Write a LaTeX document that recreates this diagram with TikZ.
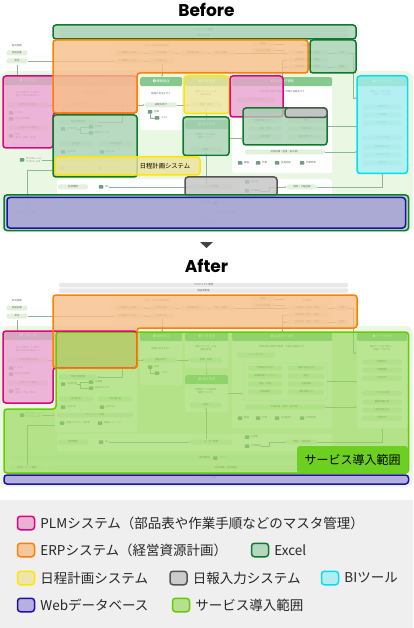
\documentclass[tikz,border=0pt]{standalone}
\usepackage{fontspec}
\setmainfont{Noto Sans CJK JP}
\newfontfamily\titlefont{Poppins}
\usepackage{xcolor}
\usetikzlibrary{arrows.meta,positioning,calc}

\definecolor{plmfill}{HTML}{E8A2CC}
\definecolor{plmline}{HTML}{E4007F}
\definecolor{erpfill}{HTML}{F7BE88}
\definecolor{erpline}{HTML}{FF7F00}
\definecolor{xlsfill}{HTML}{A6D1B2}
\definecolor{xlsline}{HTML}{0E7A2E}
\definecolor{schfill}{HTML}{EDE49A}
\definecolor{schline}{HTML}{FFE600}
\definecolor{rptfill}{HTML}{C4C4C4}
\definecolor{rptline}{HTML}{555555}
\definecolor{bifill}{HTML}{A2ECEF}
\definecolor{biline}{HTML}{00E1EE}
\definecolor{webfill}{HTML}{A89FDB}
\definecolor{webline}{HTML}{1E0FAA}
\definecolor{svcfill}{HTML}{96D85A}
\definecolor{svcline}{HTML}{66CC00}
\definecolor{svctag}{HTML}{6CCF22}
\definecolor{bgsoft}{HTML}{EAF7E2}
\definecolor{hdgreen}{HTML}{86C98C}
\definecolor{chipfill}{HTML}{E2F0DC}
\definecolor{bargray}{HTML}{E9E9E9}
\definecolor{icongreen}{HTML}{6E9E7E}
\definecolor{txtgray}{HTML}{6A6A6A}
\definecolor{wireline}{HTML}{8DB597}
\definecolor{legendbg}{HTML}{EFEFEF}
\definecolor{arrowgray}{HTML}{444444}

\newcommand\chipfont{\fontsize{2.4}{2.9}\selectfont}
\newcommand\headfont{\fontsize{3.2}{3.6}\selectfont}

% common diagram, #1 = name prefix
\newcommand\basediagram[1]{%
  \fill[bgsoft,rounded corners=8pt] (0,71) rectangle (413,232);
  % project bars
  \node[bar,minimum width=289pt] (#1-proj) at (203.5,30) {プロジェクト管理};
  \node[bar,minimum width=289pt] (#1-bomm) at (203.5,35.5) {部品表管理};
  % sales
  \node[card,anchor=north west,minimum width=28pt,minimum height=23pt] (#1-sales) at (3,42) {};
  \node[note] (#1-salest) at (17,46) {販売管理};
  \node[chip,minimum width=21pt] (#1-inv) at (17,53) {商品在庫};
  \node[chip,minimum width=21pt] (#1-order) at (17,61) {受注};
  % MRP and stock
  \node[card,anchor=north west,minimum width=222pt,minimum height=29pt] (#1-mrp) at (110,41) {};
  \node[note] (#1-mrpt) at (158,46) {MRP（資材所要量計画）};
  \node[chip,minimum width=28pt] (#1-fix1) at (129,53) {計画確定（製番）};
  \node[chip,minimum width=28pt] (#1-fix2) at (129,61) {計画確定（見込）};
  \node[chip,minimum width=24pt] (#1-plan) at (162,53) {発注計画};
  \node[chip,minimum width=24pt] (#1-alloc) at (162,61) {在庫引当};
  \node[chip,minimum width=27pt] (#1-calc) at (193,53) {所要量計算};
  \node[chip,minimum width=24pt] (#1-po) at (222,53) {発注（製番）};
  \node[chip,minimum width=22pt] (#1-buy) at (263,44) {購買};
  \node[chip,minimum width=22pt] (#1-subc) at (263,50.5) {外注加工依頼};
  \node[note] (#1-stkt) at (307,46) {在庫管理};
  \node[chip,minimum width=40pt] (#1-stk1) at (308,53) {入庫受入（入庫・検品）};
  \node[chip,minimum width=40pt] (#1-stk2) at (308,60) {出庫管理（払出・移動）};
  \node[chip,minimum width=40pt] (#1-stk3) at (308,67) {在庫照会（製品・部品）};
  \node[chip,minimum width=12pt] (#1-ship) at (342,53) {出荷};
  \node[chip,minimum width=12pt] (#1-count) at (342,67) {棚卸};
  % 1
  \node[card,anchor=north west,minimum width=50pt,minimum height=72pt] (#1-p1) at (3,76) {};
  \node[head,minimum width=50pt] (#1-p1h) at (3,76) {❶\,企画立案};
  \node[note] (#1-p1t) at (28,94) {手引き類作りと必要な\\部材の供給を確認する};
  \node[chip,minimum width=40pt] (#1-proto) at (28,105) {試作品製作計画};
  \node[icon] (#1-ebom) at (11,113) {};
  \node[ilabel,right=1.5pt of #1-ebom] (#1-ebomt) {E-BOM};
  \node[icon] (#1-std) at (11,119) {};
  \node[ilabel,right=1.5pt of #1-std] (#1-stdt) {部品/技術標準};
  \node[chip,minimum width=40pt] (#1-pmst) at (28,128) {部品マスタ管理};
  \node[icon] (#1-form) at (11,136) {};
  \node[ilabel,right=1.5pt of #1-form] (#1-formt) {帳票\\(部品、規格、図面)};
  % 2
  \node[card,anchor=north west,minimum width=82pt,minimum height=100pt] (#1-p2) at (55,77) {};
  \node[head,minimum width=82pt] (#1-p2h) at (55,77) {❷\,工程設計};
  \node[note] (#1-p2t) at (96,93) {治具図面から部品表を作り\\作業手順を作成する};
  \node[chip,minimum width=38pt] (#1-draw) at (79,105) {製品図面作成};
  \node[icon] (#1-cad) at (64,112) {};
  \node[ilabel,right=1.5pt of #1-cad] (#1-cadt) {CAD};
  \node[chip,minimum width=38pt] (#1-wi) at (78,122) {作業手順管理};
  \node[icon] (#1-wdoc) at (63,129) {};
  \node[ilabel,right=1.5pt of #1-wdoc] (#1-wdoct) {作業手順};
  \node[icon] (#1-wfig) at (91,127) {};
  \node[ilabel,right=1.5pt of #1-wfig] (#1-wfigt) {作業図};
  \node[icon] (#1-cat) at (91,133) {};
  \node[ilabel,right=1.5pt of #1-cat] (#1-catt) {部品カタログ};
  \node[chip,minimum width=34pt] (#1-jig) at (76,144) {治具計画};
  \node[chip,minimum width=34pt] (#1-mach) at (115,144) {加工設計書};
  \node[icon] (#1-jigdb) at (63,152) {};
  \node[ilabel,right=1.5pt of #1-jigdb] (#1-jigdbt) {治具 DB};
  \node[icon] (#1-machdb) at (102,152) {};
  \node[ilabel,right=1.5pt of #1-machdb] (#1-machdbt) {加工 DB};
  \node[bar,minimum width=76pt] (#1-net) at (95,160) {ネットワーク共有};
  \node[icon] (#1-sched) at (62,168) {};
  \node[ilabel,right=1.5pt of #1-sched] (#1-schedt) {生産スケジュール共有};
  \node[icon] (#1-store) at (100,168) {};
  \node[ilabel,right=1.5pt of #1-store] (#1-storet) {部品ストレージ};
  % 3
  \node[card,anchor=north west,minimum width=42pt,minimum height=53pt] (#1-p3) at (140,77) {};
  \node[head,minimum width=42pt] (#1-p3h) at (140,77) {❸\,購買発注};
  \node[note] (#1-p3t) at (161,94) {調達の発注を行う};
  \node[chip,minimum width=32pt] (#1-proc) at (161,105) {調達を発行};
  \node[icon] (#1-zai) at (150,112) {};
  \node[ilabel,right=1.5pt of #1-zai] (#1-zait) {在庫};
  \node[icon] (#1-cost) at (157,118) {};
  \node[ilabel,right=1.5pt of #1-cost] (#1-costt) {コスト};
  % 4
  \node[card,anchor=north west,minimum width=43pt,minimum height=36pt] (#1-p4) at (185,77) {};
  \node[head,minimum width=43pt] (#1-p4h) at (185,77) {❹\,日程管理};
  \node[note] (#1-p4t) at (206,93) {個別スケジュールを\\確認/変更};
  \node[chip,minimum width=32pt] (#1-view) at (206,105) {閲覧・管理};
  % 6
  \node[card,anchor=north west,minimum width=43pt,minimum height=37pt] (#1-p6) at (185,120) {};
  \node[head,minimum width=43pt] (#1-p6h) at (185,120) {❻\,進捗管理};
  \node[note] (#1-p6t) at (206,136) {作業者ごとの進捗を\\確認/フォロー};
  \node[chip,minimum width=32pt] (#1-chk) at (206,150) {確認};
  % 5
  \node[card,anchor=north west,minimum width=100pt,minimum height=96pt] (#1-p5) at (232,77) {};
  \node[head,minimum width=100pt] (#1-p5h) at (232,77) {❺\,製造実行管理};
  \node[note] (#1-p5t) at (282,92) {作業内容や異常の確認・作業の記録を行う};
  \node[chip,minimum width=38pt] (#1-teach) at (256,100) {ティーチング};
  \node[card,draw=chipfill,anchor=north west,minimum width=84pt,minimum height=37pt] (#1-exec) at (243,108) {};
  \node[chip,minimum width=34pt] (#1-e1) at (265,113) {作業指示(SF/T)};
  \node[chip,minimum width=34pt] (#1-e2) at (265,121) {実績記録(ハンディ)};
  \node[chip,minimum width=34pt] (#1-e3) at (265,129) {検査・手順};
  \node[chip,minimum width=34pt] (#1-e4) at (265,137) {品質管理};
  \node[chip,minimum width=36pt] (#1-e5) at (306,113) {実績日報(日/月)};
  \node[chip,minimum width=36pt] (#1-e6) at (306,121) {受付};
  \node[chip,minimum width=36pt] (#1-e7) at (306,129) {手順記録};
  \node[chip,minimum width=36pt] (#1-e8) at (306,137) {帳票自動入力};
  \node[chip,minimum width=80pt] (#1-tech) at (285,152) {技術記録（温度・加工値）};
  \node[icon] (#1-i1) at (240,163) {};
  \node[ilabel,right=1.5pt of #1-i1] (#1-i1t) {機器};
  \node[icon] (#1-i2) at (258,163) {};
  \node[ilabel,right=1.5pt of #1-i2] (#1-i2t) {作業};
  \node[icon] (#1-i3) at (277,163) {};
  \node[ilabel,right=1.5pt of #1-i3] (#1-i3t) {品質記録};
  \node[icon] (#1-i4) at (302,163) {};
  \node[ilabel,right=1.5pt of #1-i4] (#1-i4t) {作業時間};
  % 7
  \node[card,anchor=north west,minimum width=50pt,minimum height=96pt] (#1-p7) at (357,77) {};
  \node[head,minimum width=50pt] (#1-p7h) at (357,77) {❼\,データ分析};
  \node[note] (#1-p7t) at (382,93) {製品データを分析し、\\改善へつなげる};
  \node[chip,minimum width=40pt] (#1-a1) at (382,107) {作業状況};
  \node[chip,minimum width=40pt] (#1-a2) at (382,115) {作業実績};
  \node[chip,minimum width=40pt] (#1-a3) at (382,123) {不良分析};
  \node[chip,minimum width=40pt] (#1-a4) at (382,138) {トラブル対応};
  \node[chip,minimum width=40pt] (#1-a5) at (382,147) {設備稼働分析};
  \node[chip,minimum width=40pt] (#1-a6) at (382,155) {工程分析(SF)};
  \node[chip,minimum width=40pt] (#1-a7) at (382,163) {手順分析};
  % lower row
  \node[icon] (#1-tpl) at (22,160) {};
  \node[ilabel,right=1.5pt of #1-tpl] (#1-tplt) {テンプレート/\\リファレンス};
  \node[card,anchor=north west,minimum width=275pt,minimum height=17pt] (#1-low) at (57,179) {};
  \node[chip,minimum width=30pt] (#1-ext) at (73,187) {外部環境};
  \node[icon] (#1-pm) at (101,187) {};
  \node[ilabel,right=1.5pt of #1-pm] (#1-pmt) {PM};
  \node[chip,minimum width=43pt] (#1-user) at (211,187) {ユーザー管理};
  \node[icon] (#1-u1) at (247,182) {};
  \node[ilabel,right=1.5pt of #1-u1] (#1-u1t) {利用者};
  \node[icon] (#1-u2) at (247,191) {};
  \node[ilabel,right=1.5pt of #1-u2] (#1-u2t) {作業管理};
  \node[chip,minimum width=30pt] (#1-rec) at (302,187) {部材・工程記録};
  % database rows
  \node[rowbar,minimum width=393pt] (#1-rowa) at (206.5,203) {};
  \node[ilabel] (#1-rowat) at (204,203) {X 資材管理};
  \node[icon,right=3pt of #1-rowat] (#1-srv) {};
  \node[ilabel,right=1.5pt of #1-srv] (#1-srvt) {サーバ};
  \node[chip,minimum width=35pt,minimum height=6pt] (#1-partrec) at (27,213) {部品レコード管理};
  \node[rowbar,minimum width=356pt] (#1-rowb) at (226,213) {部品部署・業者管理};
  \node[rowbar,minimum width=393pt] (#1-rowc) at (206.5,223) {ソースコード管理};
  % connectors
  \draw[wire] (#1-sales.south) -- (#1-sales.south |- #1-p1.north);
  \draw[wire,->] (#1-order) -- (#1-fix2);
  \draw[wire,->] (#1-plan) -- (#1-fix1);
  \draw[wire,->] (#1-alloc) -- (#1-fix2);
  \draw[wire,->] (#1-calc) -- (#1-plan);
  \draw[wire,->] (#1-po) -- (#1-calc);
  \draw[wire,->] (#1-po) -- (#1-stk1);
  \draw[wire,->] (#1-buy.east) -- ([xshift=-3pt]#1-stk1.west |- #1-buy);
  \draw[wire,->] (#1-subc.east) -- ([xshift=-3pt]#1-stk1.west |- #1-subc);
  \draw[wire,->] (#1-stk1) -- (#1-ship);
  \draw[wire,->] (#1-stk3) -- (#1-count);
  \coordinate (#1-up) at (282,77);
  \draw[wire,->] (#1-up) |- (#1-stk2.west);
  \draw[wire,->] (#1-up |- #1-stk3) -- (#1-stk3.west);
  \draw[wire,->] (#1-ship.east) -- ++(5,0) |- ([yshift=-21pt]#1-p7.north west);
  \draw[wire,->] (#1-alloc.south) -- (#1-alloc.south |- #1-p3.north);
  \draw[wire,->] (#1-proto) -- (#1-draw);
  \draw[wire,->] (#1-draw) -- (#1-proc);
  \draw[wire,->] ([xshift=24pt]#1-draw.east) |- (#1-wi.east);
  \draw[wire] (#1-wdoct.east) -- ++(3,0) |- (#1-wfig.west);
  \draw[wire] (#1-wdoct.east) -- ++(3,0) |- (#1-cat.west);
  \draw[wire] (#1-zai.south) |- (#1-cost.west);
  \draw[wire,->] (#1-proc) -- (#1-view);
  \draw[wire,->] (#1-view.south) -- (#1-p6h.north);
  \draw[wire,->] (#1-p6.east) -- (#1-p6.east -| #1-exec.west);
  \draw[wire,->] (#1-exec.east) -- (#1-exec.east -| #1-p7.west);
  \draw[wire,->] (#1-tech.east) -- (#1-tech.east -| #1-p7.west);
  \draw[wire,->] (#1-tplt.east) -- (#1-tplt.east -| #1-p2.west);
  \draw[wire,->] (#1-partrec.north) |- ($(#1-p2.south west)+(0,-7)$);
  \draw[wire,->] (#1-pmt.east) -- (#1-user.west);
  \draw[wire,->] (#1-user.north -| #1-chk.south) -- (#1-chk.south);
  \draw[wire,->] (#1-u2t.east) -- ++(8,0) |- (#1-rec.west);
  \draw[wire,->] (#1-rec.east) -| (#1-p7.south);
}

\begin{document}
\begin{tikzpicture}[x=1pt,y=-1pt,>={Latex[length=1.8pt,width=1.6pt]}]
  \tikzstyle{card}=[fill=white,rounded corners=2.5pt,inner sep=0pt]
  \tikzstyle{head}=[fill=hdgreen,rounded corners=2pt,text=white,font=\headfont,inner sep=0pt,minimum height=9pt,anchor=north west]
  \tikzstyle{chip}=[fill=chipfill,rounded corners=2pt,text=txtgray,font=\chipfont,inner sep=0pt,minimum height=5pt]
  \tikzstyle{bar}=[chip,fill=bargray,minimum height=4.5pt]
  \tikzstyle{rowbar}=[chip,minimum height=6pt]
  \tikzstyle{note}=[text=txtgray,font=\chipfont,align=center,inner sep=0pt]
  \tikzstyle{icon}=[fill=icongreen,rounded corners=0.6pt,minimum width=4.5pt,minimum height=3.5pt,inner sep=0pt]
  \tikzstyle{ilabel}=[text=txtgray,font=\chipfont,inner sep=0pt,align=left]
  \tikzstyle{wire}=[draw=wireline,line width=0.45pt]
  \tikzstyle{zone}=[line width=1.5pt,rounded corners=3pt,fill opacity=0.8]
  \tikzstyle{plm}=[zone,fill=plmfill,draw=plmline]
  \tikzstyle{erp}=[zone,fill=erpfill,draw=erpline]
  \tikzstyle{xls}=[zone,fill=xlsfill,draw=xlsline]
  \tikzstyle{sch}=[zone,fill=schfill,draw=schline]
  \tikzstyle{rpt}=[zone,fill=rptfill,draw=rptline]
  \tikzstyle{bi}=[zone,fill=bifill,draw=biline]
  \tikzstyle{web}=[zone,fill=webfill,draw=webline]
  \tikzstyle{svc}=[zone,fill=svcfill,draw=svcline,fill opacity=0.65]
  \tikzstyle{swatch}=[minimum width=17pt,minimum height=13.5pt,inner sep=0pt]
  \tikzstyle{legtext}=[font=\fontsize{13.5}{16}\selectfont,text=black!85,inner sep=0pt,anchor=west]

  \useasboundingbox (0,0) rectangle (413,628);

  % ---- Before ----
  \node[font={\titlefont\bfseries\fontsize{17}{20}\selectfont}] (ttl-before) at (206.5,10) {Before};
  \basediagram{b}
  \draw[xls] (53,25) rectangle (356,39);
  \draw[plm] (3,76) -- (137,76) -- (137,113) -- (53,113) -- (53,148) -- (3,148) -- cycle;
  \draw[erp] (53,40) -- (308,40) -- (308,73) -- (137,73) -- (137,113) -- (53,113) -- cycle;
  \draw[xls] (310,40) rectangle (356,73);
  \draw[sch] (184,76) rectangle (229,113.5);
  \draw[plm] (230,76) rectangle (283,117);
  \draw[xls] (243,108) rectangle (327,145);
  \draw[rpt] (285,108) rectangle (327,117.5);
  \draw[xls] (183,117) rectangle (229,155.5);
  \draw[bi] (357,76) rectangle (407.5,173.5);
  \draw[xls] (53,115) rectangle (137,177);
  \draw[sch] (55,157) rectangle (200,175);
  \node[font=\fontsize{6.3}{7}\selectfont,text=black] (b-schtag) at (165,166) {日程計画システム};
  \draw[rpt] (185,177) rectangle (277,196);
  \draw[xls] (4,195) rectangle (408.5,230.5);
  \draw[web] (7,197.5) rectangle (405.5,228);

  % ---- arrow ----
  \fill[arrowgray] (200,242) -- (213,242) -- (206.5,248) -- cycle;

  % ---- After ----
  \node[font={\titlefont\bfseries\fontsize{17}{20}\selectfont}] (ttl-after) at (206.5,266) {After};
  \begin{scope}[shift={(0,255)}]
    \basediagram{a}
    \fill[plm,draw=none] (3,76) -- (137,76) -- (137,113) -- (53,113) -- (53,148) -- (3,148) -- cycle;
    \fill[erp,draw=none] (53,40) -- (357,40) -- (357,73) -- (137,73) -- (137,113) -- (53,113) -- cycle;
    \fill[svc,draw=none] (56,77) -- (408.5,77) -- (408.5,218) -- (4,218) -- (4,154) -- (56,154) -- cycle;
    \draw[svc,fill=none] (56,77) -- (408.5,77) -- (408.5,218) -- (4,218) -- (4,154) -- (56,154) -- cycle;
    \draw[plm,fill=none] (3,76) -- (137,76) -- (137,113) -- (53,113) -- (53,148) -- (3,148) -- cycle;
    \draw[erp,fill=none] (53,40) -- (357,40) -- (357,73) -- (137,73) -- (137,113) -- (53,113) -- cycle;
    \draw[web] (4,220) rectangle (408.5,229);
    \node[fill=svctag,rounded corners=3pt,minimum width=111pt,minimum height=27pt,inner sep=0pt,
      font=\fontsize{12}{14}\selectfont,text=black] (a-svctag) at (352.5,204.5) {サービス導入範囲};
  \end{scope}

  % ---- legend ----
  \fill[legendbg] (0,500) rectangle (413,628);
  \node[swatch,plm] (lg-plm) at (26,523) {};
  \node[legtext,right=5pt of lg-plm] (lg-plmt) {PLMシステム（部品表や作業手順などのマスタ管理）};
  \node[swatch,erp] (lg-erp) at (26,550) {};
  \node[legtext,right=5pt of lg-erp] (lg-erpt) {ERPシステム（経営資源計画）};
  \node[swatch,xls] (lg-xls) at (260,550) {};
  \node[legtext,right=5pt of lg-xls] (lg-xlst) {Excel};
  \node[swatch,sch] (lg-sch) at (26,578) {};
  \node[legtext,right=5pt of lg-sch] (lg-scht) {日程計画システム};
  \node[swatch,rpt] (lg-rpt) at (178.5,578) {};
  \node[legtext,right=5pt of lg-rpt] (lg-rptt) {日報入力システム};
  \node[swatch,bi] (lg-bi) at (330,578) {};
  \node[legtext,right=5pt of lg-bi] (lg-bit) {BIツール};
  \node[swatch,web] (lg-web) at (26,605) {};
  \node[legtext,right=5pt of lg-web] (lg-webt) {Webデータベース};
  \node[swatch,svc] (lg-svc) at (181,605) {};
  \node[legtext,right=5pt of lg-svc] (lg-svct) {サービス導入範囲};
\end{tikzpicture}
\end{document}
